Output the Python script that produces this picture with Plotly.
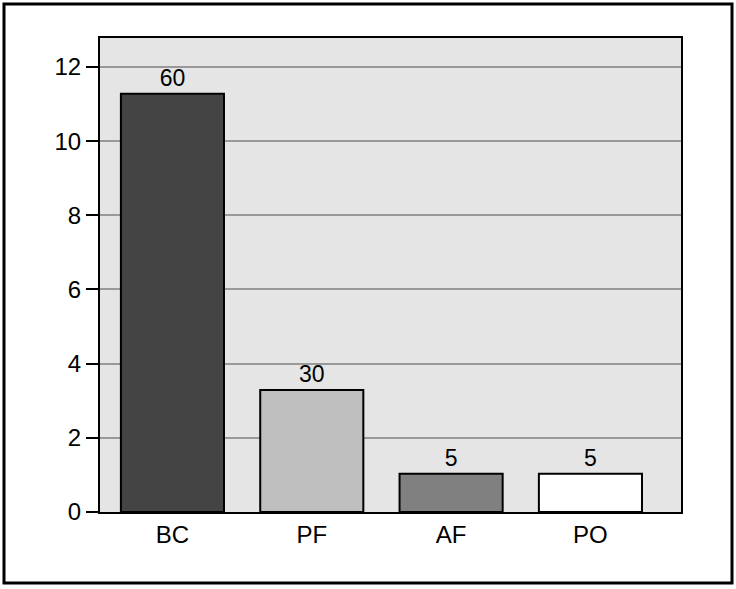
import plotly.graph_objects as go

categories = ["BC", "PF", "AF", "PO"]
heights = [11.28, 3.29, 1.03, 1.03]
bar_labels = ["60", "30", "5", "5"]
bar_colors = ["#444444", "#bfbfbf", "#808080", "#ffffff"]
y_ticks = [0, 2, 4, 6, 8, 10, 12]

W, H = 736, 589
L, R, T, B = 100, 55, 38, 77

fig = go.Figure()
fig.add_bar(
    x=categories, y=heights, text=bar_labels,
    textposition="outside", cliponaxis=False,
    textfont=dict(size=23, color="black"),
    marker=dict(color=bar_colors, line=dict(color="black", width=2)),
    width=0.74,
)

# outer frame around the whole picture
pw, ph = W - L - R, H - T - B
fig.add_shape(
    type="rect", xref="paper", yref="paper", layer="above",
    x0=(4 - L) / pw, x1=(732 - L) / pw,
    y0=(H - B - 583) / ph, y1=(H - B - 4) / ph,
    line=dict(color="black", width=3), fillcolor="rgba(0,0,0,0)",
)

fig.update_layout(
    width=W, height=H,
    margin=dict(l=L, r=R, t=T, b=B),
    paper_bgcolor="white", plot_bgcolor="#e5e5e5",
    font=dict(family="Liberation Sans, Arial, sans-serif", color="black"),
    showlegend=False,
)
fig.update_xaxes(
    range=[-0.52, 3.65], showline=True, linecolor="black", linewidth=2,
    mirror=True, ticks="", tickfont=dict(size=24), showgrid=False,
)
fig.update_yaxes(
    range=[0, 12.78], tickvals=y_ticks, showline=True, linecolor="black",
    linewidth=2, mirror=True, ticks="outside", ticklen=12, tickwidth=2,
    tickcolor="black", tickfont=dict(size=24), gridcolor="#999999",
    gridwidth=2, zeroline=False,
)

fig.write_html("out.html", config={"displayModeBar": False},
               post_script="document.body.style.margin='0';")
